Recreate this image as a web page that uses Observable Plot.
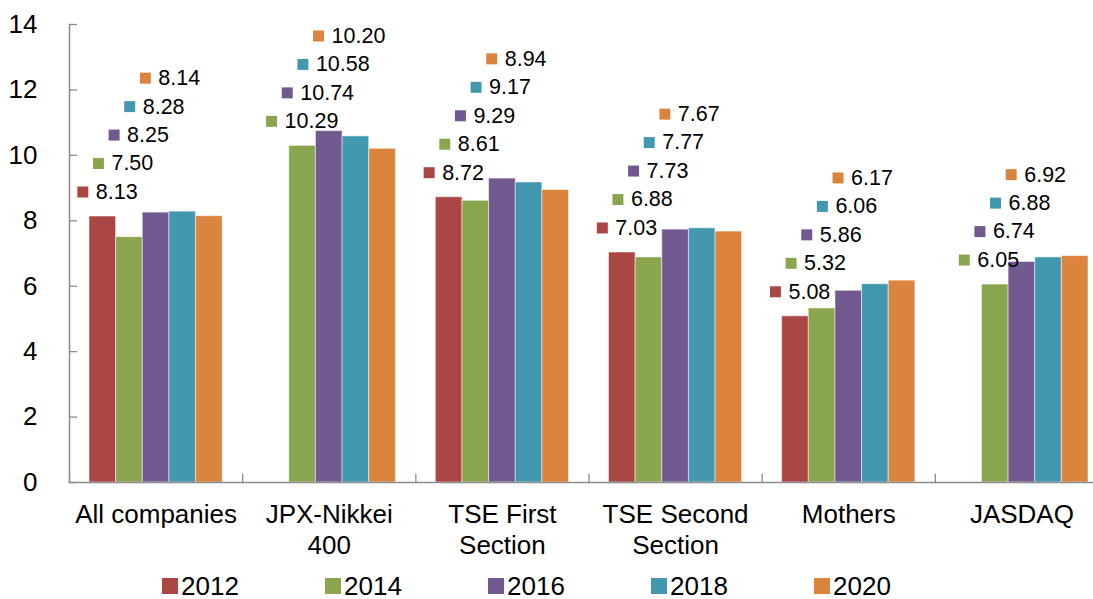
<!DOCTYPE html>
<html>
<head>
<meta charset="utf-8">
<script src="https://cdn.jsdelivr.net/npm/d3@7"></script>
<script src="https://cdn.jsdelivr.net/npm/@observablehq/plot@0.6"></script>
<style>
  html, body { margin: 0; padding: 0; background: #fff; overflow: hidden; }
  body { font-family: "Liberation Sans", Arial, sans-serif; width: 1093px; height: 599px; }
  #legend { position: relative; height: 34px; margin-top: 4px; }
  .li { position: absolute; top: 0; display: flex; align-items: center; height: 34px; font-size: 26px; color: #000; }
  .sw { width: 16px; height: 16px; margin-right: 3px; }
</style>
</head>
<body>
<div id="chart"></div>
<div id="legend"></div>
<script>
const categories = ["All companies", "JPX-Nikkei 400", "TSE First Section", "TSE Second Section", "Mothers", "JASDAQ"];
const categoryLabels = ["All companies", "JPX-Nikkei\n400", "TSE First\nSection", "TSE Second\nSection", "Mothers", "JASDAQ"];
const years = ["2012", "2014", "2016", "2018", "2020"];
const v2012 = [8.13, null, 8.72, 7.03, 5.08, null];
const v2014 = [7.50, 10.29, 8.61, 6.88, 5.32, 6.05];
const v2016 = [8.25, 10.74, 9.29, 7.73, 5.86, 6.74];
const v2018 = [8.28, 10.58, 9.17, 7.77, 6.06, 6.88];
const v2020 = [8.14, 10.20, 8.94, 7.67, 6.17, 6.92];
const yTicks = [0, 2, 4, 6, 8, 10, 12, 14];
const colors = ["#AA4643", "#89A54E", "#71588F", "#4198AF", "#DB843D"];

const series = [v2012, v2014, v2016, v2018, v2020];
const data = [];
categories.forEach((c, j) => {
  years.forEach((yr, i) => {
    const v = series[i][j];
    if (v != null) data.push({cat: c, year: yr, value: v});
  });
});
// staircase label placement above each group
const labels = [];
categories.forEach(c => {
  const rows = data.filter(d => d.cat === c);
  const base = rows[0].value;
  rows.forEach((d, k) => labels.push({...d, ly: base + 0.75 + k * 0.87}));
});

const axisGray = "#8c8c8c";
const labelMarks = years.flatMap((yr, i) => {
  const rows = labels.filter(d => d.year === yr);
  const dx = -20 - 11 * i;
  return [
    Plot.dot(rows, {fx: "cat", x: "year", y: "ly", symbol: "square", r: 6.2, fill: colors[i], stroke: null, dx}),
    Plot.text(rows, {fx: "cat", x: "year", y: "ly", text: d => d.value.toFixed(2), textAnchor: "start", dx: dx + 13, fontSize: 21.5, fill: "#000"})
  ];
});

const chart = Plot.plot({
  width: 1093,
  height: 565,
  marginTop: 24,
  marginBottom: 83,
  marginLeft: 69,
  marginRight: -15,
  style: {fontFamily: "'Liberation Sans', Arial, sans-serif", fontSize: "22px", color: "#000", background: "#fff"},
  fx: {domain: categories, padding: 0, round: false},
  x: {domain: years, paddingInner: 0, paddingOuter: 0.75, round: false, axis: null},
  y: {domain: [0, 14]},
  color: {domain: years, range: colors},
  marks: [
    Plot.barY(data, {fx: "cat", x: "year", y: "value", fill: "year", stroke: "#fff", strokeOpacity: 0.5, strokeWidth: 1}),
    Plot.frame({anchor: "left", insetTop: 450, stroke: axisGray, strokeWidth: 1.3}),
    Plot.frame({anchor: "bottom", stroke: axisGray, strokeWidth: 1.5, facet: "super"}),
    Plot.frame({anchor: "left", stroke: axisGray, strokeWidth: 1.5, facet: "super"}),
    Plot.axisY({ticks: yTicks, tickSize: -8, tickPadding: 40, fontSize: 26, label: null, stroke: axisGray, strokeWidth: 1.3, fill: "#000"}),
    Plot.axisFx({anchor: "bottom", tickSize: 0, tickPadding: 18, fontSize: 26, lineHeight: 1.2, label: null, fill: "#000",
      tickFormat: c => categoryLabels[categories.indexOf(c)]}),
    ...labelMarks
  ]
});
document.getElementById("chart").appendChild(chart);

const legend = document.getElementById("legend");
years.forEach((yr, i) => {
  const item = document.createElement("div");
  item.className = "li";
  item.style.left = (162 + i * 163) + "px";
  const sw = document.createElement("span");
  sw.className = "sw";
  sw.style.background = colors[i];
  const t = document.createElement("span");
  t.textContent = yr;
  item.appendChild(sw);
  item.appendChild(t);
  legend.appendChild(item);
});
</script>
</body>
</html>
